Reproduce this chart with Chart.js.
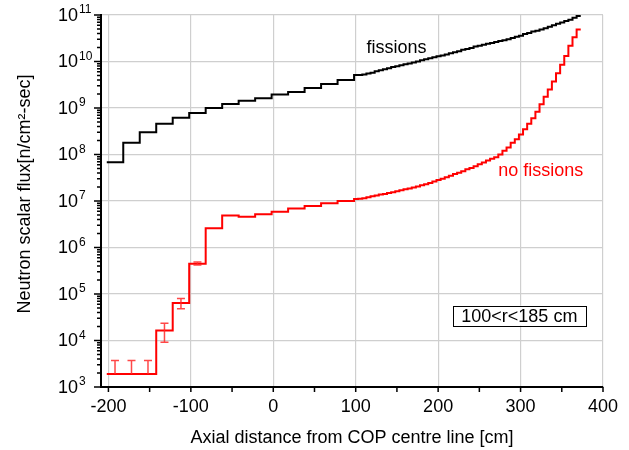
<!DOCTYPE html>
<html>
<head>
<meta charset="utf-8">
<script src="https://cdn.jsdelivr.net/npm/chart.js@4"></script>
<style>
  body { margin: 0; background: #fff; }
  #wrap { width: 629px; height: 450px; }
</style>
</head>
<body>
<div id="wrap"><canvas id="flux_chart" width="629" height="450"></canvas></div>
<script>
// bin edges along the axis [cm] : 20 cm bins then 5 cm bins
const binEdges = [-202, -182, -162, -142, -122, -102, -82, -62, -42, -22, -2, 18, 38, 58, 78,
  98, 103, 108, 113, 118, 123, 128, 133, 138, 143, 148, 153, 158, 163, 168, 173, 178, 183, 188, 193,
  198, 203, 208, 213, 218, 223, 228, 233, 238, 243, 248, 253, 258, 263, 268, 273, 278, 283, 288, 293,
  298, 303, 308, 313, 318, 323, 328, 333, 338, 343, 348, 353, 358, 363, 368, 373];

// flux per bin, with fissions
const fissions = [6.8e7, 1.78e8, 3.0e8, 4.6e8, 6.2e8, 7.8e8, 1.0e9, 1.22e9, 1.43e9, 1.63e9, 1.94e9, 2.2e9, 2.7e9, 3.3e9, 4.0e9,
  5.1e9, 5.1e9, 5.25e9, 5.5e9, 5.75e9, 6.2e9, 6.5e9, 6.8e9, 7.2e9, 7.6e9, 7.9e9, 8.3e9, 8.7e9, 9.1e9, 9.5e9,
  1.0e10, 1.07e10, 1.12e10, 1.17e10, 1.23e10, 1.29e10, 1.35e10, 1.41e10, 1.51e10, 1.58e10, 1.66e10, 1.78e10, 1.86e10, 1.95e10, 2.09e10,
  2.19e10, 2.29e10, 2.4e10, 2.5e10, 2.63e10, 2.75e10, 2.88e10, 3.0e10, 3.2e10, 3.4e10, 3.6e10, 3.9e10, 4.1e10, 4.4e10, 4.6e10,
  4.9e10, 5.2e10, 5.6e10, 6.0e10, 6.5e10, 6.9e10, 7.4e10, 7.9e10, 8.7e10, 9.5e10];

// flux per bin, no fissions
const noFissions = [1.9e3, 1.9e3, 1.9e3, 1.65e4, 6.4e4, 4.5e5, 2.6e6, 4.9e6, 4.6e6, 5.2e6, 5.9e6, 6.9e6, 7.8e6, 8.9e6, 1.0e7,
  1.1e7, 1.12e7, 1.15e7, 1.2e7, 1.26e7, 1.32e7, 1.38e7, 1.41e7, 1.48e7, 1.55e7, 1.62e7, 1.7e7, 1.78e7, 1.86e7, 1.95e7,
  2.04e7, 2.19e7, 2.29e7, 2.45e7, 2.63e7, 2.82e7, 3.02e7, 3.24e7, 3.47e7, 3.8e7, 4.07e7, 4.37e7, 4.79e7, 5.13e7, 5.62e7,
  6.17e7, 6.76e7, 7.41e7, 8.13e7, 8.71e7, 1.0e8, 1.2e8, 1.41e8, 1.78e8, 2.14e8, 2.69e8, 3.47e8, 4.57e8, 6.03e8, 8.32e8,
  1.2e9, 1.74e9, 2.51e9, 3.72e9, 5.62e9, 8.51e9, 1.32e10, 2.19e10, 3.31e10, 4.9e10];

// error bars on the no fissions curve (low statistics bins), 0 = no lower part
const errX = [-192, -172, -152, -132, -112, -92];
const errLow = [0, 0, 0, 9.2e3, 4.8e4, 4.2e5];
const errHigh = [3.7e3, 3.7e3, 3.7e3, 2.35e4, 8.0e4, 4.9e5];

// axis ticks
const xTicks = [-200, -100, 0, 100, 200, 300, 400];
const yExponents = [3, 4, 5, 6, 7, 8, 9, 10, 11];

const FONT = "'Liberation Sans', Arial, sans-serif";
Chart.defaults.font.family = FONT;

// histogram -> step points (last edge repeats last value)
function stepPoints(values) {
  return binEdges.map((e, i) => ({ x: e, y: values[Math.min(i, values.length - 1)] }));
}

// value of the no fissions bin that contains xv
function binValue(xv) {
  let i = 0;
  while (i < binEdges.length - 2 && binEdges[i + 1] <= xv) i++;
  return noFissions[i];
}

const decor = {
  id: 'decor',
  afterDatasetsDraw(chart) {
    const { ctx, chartArea: a, scales: { x, y } } = chart;
    ctx.save();
    ctx.beginPath();
    ctx.rect(a.left, a.top, a.right - a.left, a.bottom - a.top);
    ctx.clip();
    ctx.strokeStyle = 'rgba(255,40,40,0.85)';
    ctx.lineWidth = 1.5;
    for (let i = 0; i < errX.length; i++) {
      const px = x.getPixelForValue(errX[i]);
      const top = y.getPixelForValue(errHigh[i]);
      const bot = y.getPixelForValue(errLow[i] > 0 ? errLow[i] : binValue(errX[i]));
      ctx.beginPath();
      ctx.moveTo(px, bot); ctx.lineTo(px, top);
      ctx.moveTo(px - 4, top); ctx.lineTo(px + 4, top);
      if (errLow[i] > 0) { ctx.moveTo(px - 4, bot); ctx.lineTo(px + 4, bot); }
      ctx.stroke();
    }
    ctx.restore();
  },
  afterDraw(chart) {
    const { ctx, chartArea: a, scales: { x, y } } = chart;
    ctx.save();
    ctx.strokeStyle = '#000';
    ctx.lineWidth = 1.5;
    // x ticks (major + minor, pointing down)
    ctx.beginPath();
    xTicks.forEach(v => {
      const px = x.getPixelForValue(v);
      ctx.moveTo(px, a.bottom); ctx.lineTo(px, a.bottom + 5);
      if (v < 400) {
        const pm = x.getPixelForValue(v + 50);
        ctx.moveTo(pm, a.bottom); ctx.lineTo(pm, a.bottom + 5);
      }
    });
    // y ticks
    yExponents.forEach(e => {
      const py = y.getPixelForValue(Math.pow(10, e));
      ctx.moveTo(a.left - 7, py); ctx.lineTo(a.left, py);
      if (e < 11) {
        for (let m = 2; m <= 9; m++) {
          const pm = y.getPixelForValue(m * Math.pow(10, e));
          ctx.moveTo(a.left - 4, pm); ctx.lineTo(a.left, pm);
        }
      }
    });
    ctx.stroke();

    // y tick labels 10^n
    ctx.fillStyle = '#000';
    yExponents.forEach(e => {
      const py = y.getPixelForValue(Math.pow(10, e));
      ctx.font = '18px ' + FONT;
      ctx.textAlign = 'right';
      ctx.textBaseline = 'middle';
      ctx.fillText('10', 78, py + 1);
      ctx.font = '12px ' + FONT;
      ctx.textAlign = 'left';
      ctx.fillText(String(e), 79, py - 5);
    });

    // axis titles
    ctx.font = '18px ' + FONT;
    ctx.textAlign = 'center';
    ctx.textBaseline = 'middle';
    ctx.fillText('Axial distance from COP centre line [cm]', 352, 438);
    ctx.save();
    ctx.translate(25, 194);
    ctx.rotate(-Math.PI / 2);
    ctx.fillText('Neutron scalar flux[n/cm\u00B2-sec]', 0, 0);
    ctx.restore();

    // curve labels
    ctx.textAlign = 'left';
    ctx.textBaseline = 'alphabetic';
    ctx.fillStyle = '#000';
    ctx.fillText('fissions', x.getPixelForValue(113), y.getPixelForValue(1.5e10));
    ctx.fillStyle = '#ff0000';
    ctx.fillText('no fissions', x.getPixelForValue(273), y.getPixelForValue(3.5e7));

    // region box
    const bx0 = x.getPixelForValue(218), bx1 = x.getPixelForValue(379);
    const by0 = y.getPixelForValue(Math.pow(10, 4.75)), by1 = y.getPixelForValue(Math.pow(10, 4.32));
    ctx.fillStyle = '#fff';
    ctx.fillRect(bx0, by0, bx1 - bx0, by1 - by0);
    ctx.strokeStyle = '#000';
    ctx.lineWidth = 1;
    ctx.strokeRect(Math.round(bx0) + 0.5, Math.round(by0) + 0.5, Math.round(bx1 - bx0), Math.round(by1 - by0));
    ctx.fillStyle = '#000';
    ctx.textAlign = 'center';
    ctx.textBaseline = 'middle';
    ctx.fillText('100<r<185 cm', (bx0 + bx1) / 2, (by0 + by1) / 2 + 1);
    ctx.restore();
  }
};

const ctx = document.getElementById('flux_chart').getContext('2d');
const chartInstance = new Chart(ctx, {
  type: 'line',
  data: {
    datasets: [{
      label: 'fissions',
      data: stepPoints(fissions),
      stepped: 'before',
      borderColor: '#000',
      borderWidth: 2,
      pointRadius: 0,
      fill: false
    }, {
      label: 'no fissions',
      data: stepPoints(noFissions),
      stepped: 'before',
      borderColor: '#ff0000',
      borderWidth: 2,
      pointRadius: 0,
      fill: false
    }]
  },
  options: {
    responsive: false,
    animation: false,
    devicePixelRatio: 1,
    layout: { padding: { left: 0, top: 15, right: 26, bottom: 0 } },
    plugins: { legend: { display: false }, tooltip: { enabled: false } },
    scales: {
      x: {
        type: 'linear',
        min: -209,
        max: 400,
        afterBuildTicks: s => { s.ticks = xTicks.map(v => ({ value: v })); },
        afterFit: s => { s.height = 63; },
        ticks: { color: '#000', font: { size: 18 }, padding: 9, maxRotation: 0 },
        grid: { color: '#cfcfcf', lineWidth: 1.2, drawTicks: false },
        border: { display: true, color: '#000', width: 2 }
      },
      y: {
        type: 'logarithmic',
        min: 1e3,
        max: 1e11,
        afterBuildTicks: s => { s.ticks = yExponents.map(e => ({ value: Math.pow(10, e) })); },
        afterFit: s => { s.width = 101; },
        ticks: { display: false },
        grid: { color: '#cfcfcf', lineWidth: 1.2, drawTicks: false },
        border: { display: true, color: '#000', width: 2 }
      }
    }
  },
  plugins: [decor]
});
</script>
</body>
</html>
